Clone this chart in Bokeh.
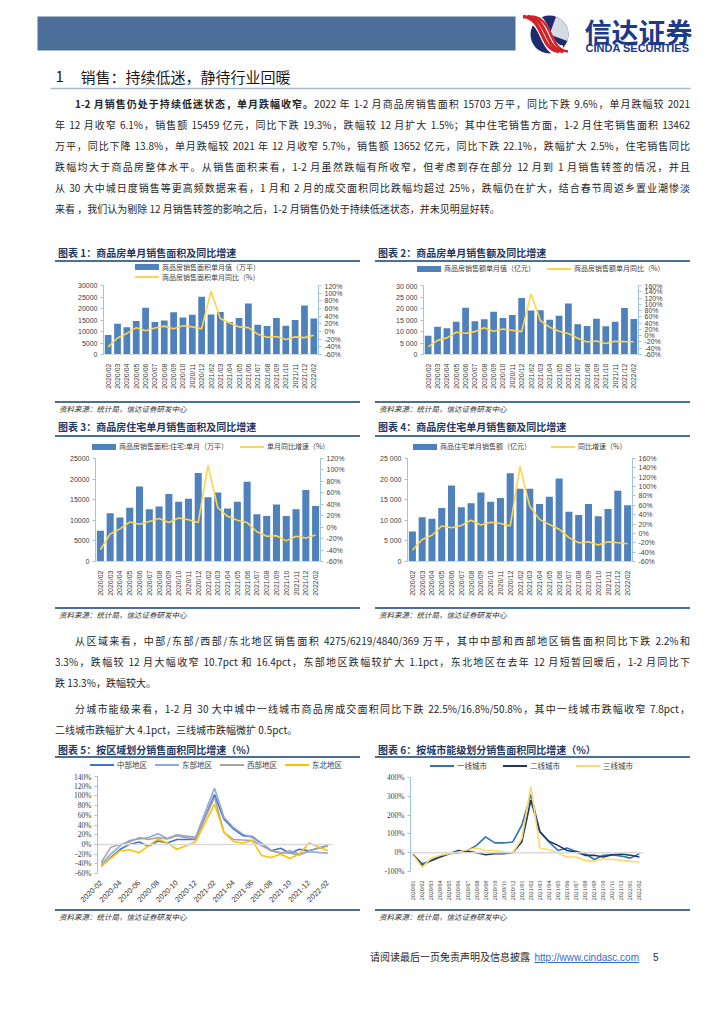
import math
from bokeh.plotting import figure
from bokeh.layouts import column, row
from bokeh.models import (Div, Spacer, Range1d, LinearAxis, FixedTicker, PrintfTickFormatter,
                          ColumnDataSource, Span, Label)
from bokeh.embed import file_html
from bokeh.resources import INLINE

CJK = "Noto Sans CJK SC"
SANS = "Liberation Sans"
SERIF = "Liberation Serif"
BAR = "#4F81BD"
YEL = "#FFD54F"
AXBLUE = "#9DC3E6"
RULE = "#4B6F99"
NAVY = "#1F3864"

# ---------------- data ----------------
months = ["2020/02", "2020/03", "2020/04", "2020/05", "2020/06", "2020/07", "2020/08", "2020/09",
          "2020/10", "2020/11", "2020/12", "2021/02", "2021/03", "2021/04", "2021/05", "2021/06",
          "2021/07", "2021/08", "2021/09", "2021/10", "2021/11", "2021/12", "2022/02"]

area_total = [8475, 13400, 11850, 14560, 20300, 14170, 14760, 18350, 16100, 17280, 25100, 17363,
              18450, 14170, 15920, 22200, 12900, 12420, 15920, 12520, 14950, 21300, 15703]
area_total_yoy = [-39.9, -17, -5, 10, 2, 9, 14, 7, 15, 12, 7, 104.9, 34, 22, 12, 10, -7, -15, -13,
                  -21, -14, -16, -9.6]

amount_total = [8203, 12050, 11450, 14270, 20300, 14460, 15340, 18550, 15920, 17180, 24600, 19151,
                19227, 15140, 16900, 22200, 13200, 12420, 15530, 12230, 14270, 20200, 15459]
amount_total_yoy = [-35.9, -15, -7, 11, 8, 13, 25, 14, 21, 17, 13, 133.4, 48, 27, 14, 7, -8, -20,
                    -17, -25, -18, -19, -19.3]

res_area = [7460, 11720, 10660, 13030, 18200, 12700, 13360, 16390, 14510, 15250, 21480, 15570,
            16720, 12870, 14510, 19340, 11480, 11070, 13850, 11070, 12700, 17380, 13462]
res_area_yoy = [-39.4, -12, -3, 9, 5, 10, 15, 8, 16, 13, 8, 108, 34, 19, 12, 8, -8, -16, -15, -24,
                -16, -19, -13.8]

res_amount = [7260, 10730, 10400, 12980, 18470, 13150, 14110, 16770, 14520, 15400, 21450, 17660,
              17660, 13950, 15730, 20160, 12100, 11290, 13950, 10970, 12740, 17180, 13652]
res_amount_yoy = [-36, -13, -4, 16, 12, 17, 28, 18, 24, 21, 16, 143, 58, 30, 19, 9, -9, -20, -18,
                  -25, -18, -20, -22.1]

ticks_30k = [0, 5000, 10000, 15000, 20000, 25000, 30000]
labels_30k_plain = ["0", "5000", "10000", "15000", "20000", "25000", "30000"]
labels_30k_space = ["0", "5 000", "10 000", "15 000", "20 000", "25 000", "30 000"]
ticks_25k = [0, 5000, 10000, 15000, 20000, 25000]
labels_25k_plain = ["0", "5000", "10000", "15000", "20000", "25000"]
labels_25k_space = ["0", "5 000", "10 000", "15 000", "20 000", "25 000"]
pct_ticks_120 = [-60, -40, -20, 0, 20, 40, 60, 80, 100, 120]
pct_ticks_160 = [-60, -40, -20, 0, 20, 40, 60, 80, 100, 120, 140, 160]

region_months = ["2020-02", "2020-03", "2020-04", "2020-05", "2020-06", "2020-07", "2020-08",
                 "2020-09", "2020-10", "2020-11", "2020-12", "2021-02", "2021-03", "2021-04",
                 "2021-05", "2021-06", "2021-07", "2021-08", "2021-09", "2021-10", "2021-11",
                 "2021-12", "2022-02"]
central = [-45, -27, -10, 0, 5, -4, 7, 3, 10, 10, 10, 103, 52, 32, 18, 16, 2, -13, -8, -18, -10,
           -13, -2.2]
east = [-41, -20, -3, 8, 11, 14, 22, 12, 20, 17, 15, 116, 56, 35, 21, 14, 1, -13, -18, -13, -20,
        -15, -18]
west = [-37, -6, 0, 5, 14, 10, 14, 11, 18, 14, 11, 97, 25, 10, 9, 8, -3, -13, -17, -18, -22, -13,
        -3.3]
northeast = [-44, -29, -13, -11, -17, -3, 11, 3, -10, -3, 6, 83, 25, 6, 3, 8, -23, -27, -20, -29,
             -20, 3, -13.3]
region_tick_labels = ["2020-02", "2020-04", "2020-06", "2020-08", "2020-10", "2020-12", "2021-02",
                      "2021-04", "2021-06", "2021-08", "2021-10", "2021-12", "2022-02"]
region_pct_ticks = [-60, -40, -20, 0, 20, 40, 60, 80, 100, 120, 140]

tier_months = ["2020/01", "2020/02", "2020/03", "2020/04", "2020/05", "2020/06", "2020/07",
               "2020/08", "2020/09", "2020/10", "2020/11", "2020/12", "2021/01", "2021/02",
               "2021/03", "2021/04", "2021/05", "2021/06", "2021/07", "2021/08", "2021/09",
               "2021/10", "2021/11", "2021/12", "2022/01", "2022/02"]
tier1 = [-11, -59, -41, -18, -5, 0, 12, 39, 84, 52, 52, 57, 146, 310, 111, 57, 12, 25, 7, -5, -36,
         -14, -11, -18, -29, -5]
tier2 = [-11, -68, -41, -23, -5, 12, 7, 0, -11, -5, -5, 0, 57, 279, 111, 61, 39, 12, 4, -14, -14,
         -23, -11, -7, -14, -23]
tier3 = [-14, -77, -29, -14, -5, 4, 16, 25, 12, 12, 4, 0, 75, 352, 25, 16, 0, -23, -23, -41, -46,
         -32, -36, -41, -46, -51]
tier_pct_ticks = [-100, 0, 100, 200, 300, 400]

C5_COLORS = ["#4472C4", "#8EA9DB", "#A5A5A5", "#FFC000"]
C5_NAMES = ["中部地区", "东部地区", "西部地区", "东北地区"]
C6_COLORS = ["#2E75B6", "#1F3864", "#FFD966"]
C6_NAMES = ["一线城市", "二线城市", "三线城市"]


def month_offset(m):
    return (int(m[:4]) - 2020) * 12 + int(m[5:7]) - 2


# ---------------- helpers ----------------
def base_fig(x_range, y_range, fw, fh, bl, br, bt, bb):
    p = figure(x_range=x_range, y_range=y_range, frame_width=fw, frame_height=fh,
               output_backend="svg", toolbar_location=None, min_border_left=bl,
               min_border_right=br, min_border_top=bt, min_border_bottom=bb)
    p.title.visible = False
    p.grid.visible = False
    p.outline_line_color = None
    return p


def style_value_axis(ax, font=SANS, size="7px"):
    ax.axis_line_color = AXBLUE
    ax.major_tick_line_color = AXBLUE
    ax.major_tick_in = 0
    ax.major_tick_out = 3
    ax.minor_tick_line_color = None
    ax.major_label_text_font = font
    ax.major_label_text_font_size = size
    ax.major_label_text_color = "#404040"
    ax.major_label_standoff = 3


def bar_line_chart(bars, yoy, lticks, llabels, rticks, fw, fh, bl, br, bt, bb):
    src = ColumnDataSource(dict(m=months, v=bars, r=yoy))
    p = base_fig(months, Range1d(lticks[0], lticks[-1]), fw, fh, bl, br, bt, bb)
    p.extra_y_ranges = {"r": Range1d(rticks[0], rticks[-1])}
    p.vbar(x="m", top="v", width=0.72, source=src, fill_color=BAR, line_color=None)
    p.line(x="m", y="r", y_range_name="r", source=src, line_color=YEL, line_width=1.6)
    ra = LinearAxis(y_range_name="r", ticker=FixedTicker(ticks=rticks),
                    formatter=PrintfTickFormatter(format="%d%%"))
    p.add_layout(ra, "right")
    la = p.left[0]
    la.ticker = FixedTicker(ticks=lticks)
    la.major_label_overrides = {t: s for t, s in zip(lticks, llabels)}
    style_value_axis(la)
    style_value_axis(ra)
    xa = p.below[0]
    xa.major_label_orientation = math.pi / 2
    xa.major_tick_line_color = None
    xa.axis_line_color = "#D9D9D9"
    xa.major_label_text_font = SANS
    xa.major_label_text_font_size = "7px"
    xa.major_label_text_color = "#404040"
    xa.major_label_standoff = 3
    return p


def legend_div(rows, w, h, pad_left, pad_top, gap, size=7, row_h=11):
    html_rows = []
    for r in rows:
        items = []
        for kind, color, label in r:
            gh = 6 if kind == "bar" else 2
            items.append(
                '<span style="display:inline-flex;align-items:center;margin-right:%dpx">'
                '<span style="display:inline-block;width:24px;height:%dpx;background:%s"></span>'
                '<span style="margin-left:3px">%s</span></span>' % (gap, gh, color, label))
        html_rows.append('<div style="height:%dpx;line-height:%dpx;display:flex;'
                         'align-items:center">%s</div>' % (row_h, row_h, "".join(items)))
    html = ('<div style="box-sizing:border-box;width:%dpx;height:%dpx;padding-left:%dpx;'
            'padding-top:%dpx;font-family:\'Noto Sans CJK SC\';font-size:%spx;color:#404040;'
            'white-space:nowrap;overflow:hidden">%s</div>'
            % (w, h, pad_left, pad_top, size, "".join(html_rows)))
    return Div(text=html, width=w, height=h, margin=0)


def title_div(text, w, h, center):
    html = ('<div style="box-sizing:border-box;width:%dpx;height:%dpx;padding-top:%dpx;'
            'padding-left:3px;border-bottom:2px solid %s;font-family:\'Noto Sans CJK SC\';'
            'font-weight:bold;font-size:10px;line-height:12px;color:%s;white-space:nowrap;'
            'overflow:hidden">%s</div>' % (w, h, center - 6, RULE, NAVY, text))
    return Div(text=html, width=w, height=h, margin=0)


def source_div(w, h):
    html = ('<div style="box-sizing:border-box;width:%dpx;height:%dpx;padding-top:1px;'
            'padding-left:4px;border-top:2px solid %s;font-family:\'Noto Sans CJK SC\';'
            'font-style:italic;font-size:7.5px;line-height:10px;color:#333;white-space:nowrap">'
            '资料来源：统计局，信达证券研发中心</div>' % (w, h, RULE))
    return Div(text=html, width=w, height=h, margin=0)


def para_html(lines, top_pad=0):
    parts = []
    for txt, indent, just, mtop in lines:
        st = ("height:21px;line-height:21px;overflow:hidden;margin-top:%dpx;" % mtop)
        if indent:
            st += "text-indent:20px;"
        if just:
            st += "text-align:justify;text-align-last:justify;"
        parts.append('<div style="%s">%s</div>' % (st, txt))
    return ('<div style="box-sizing:border-box;width:690px;padding-left:55px;padding-top:%dpx;'
            'font-family:\'Noto Sans CJK SC\';font-size:10px;color:#262626">%s</div>'
            % (top_pad, "".join(parts)))


# ---------------- header ----------------
hdr = figure(width=724, height=93, x_range=Range1d(0, 724), y_range=Range1d(93, 0),
             output_backend="svg", toolbar_location=None, min_border=0,
             x_axis_type=None, y_axis_type=None)
hdr.title.visible = False
hdr.outline_line_color = None
hdr.quad(left=[37], right=[515], top=[16], bottom=[50], fill_color="#4B6F99", line_color=None)
lx, ly = 549, 34
hdr.circle(x=[lx], y=[ly], radius=19, fill_color="#1E2C6E", line_color=None)
hdr.wedge(x=[lx], y=[ly], radius=19, start_angle=math.radians(-20), end_angle=math.radians(70),
          fill_color="#D5D9E3", line_color=None)
for off, col, wdt in [(-3, "white", 12), (-6.5, "#D2232A", 3.4), (-2, "#D2232A", 3.4),
                      (2.5, "#D2232A", 2.6)]:
    hdr.bezier(x0=[lx - 20 + off], y0=[ly - 18], x1=[lx + 16 + off], y1=[ly + 17],
               cx0=[lx + 2 + off], cy0=[ly - 16], cx1=[lx - 4 + off], cy1=[ly + 15],
               line_color=col, line_width=wdt)
hdr.add_layout(Label(x=584, y=31, text="信达证券", text_font=CJK, text_font_style="bold",
                     text_font_size="27px", text_color="#1D3A8A", text_baseline="middle"))
hdr.add_layout(Label(x=585, y=47, text="CINDA SECURITIES", text_font=SANS, text_font_style="bold",
                     text_font_size="11px", text_color="#1D3A8A", text_baseline="middle"))
hdr.add_layout(Label(x=55, y=76, text="1", text_font=CJK, text_font_size="15px",
                     text_color="#1a1a1a", text_baseline="middle"))
hdr.add_layout(Label(x=80, y=76, text="销售：持续低迷，静待行业回暖", text_font=CJK,
                     text_font_size="15px", text_color="#1a1a1a", text_baseline="middle"))
hdr.segment(x0=[50], y0=[88], x1=[690], y1=[88], line_color="#A7BAD0", line_width=1.5)

# ---------------- paragraph 1 ----------------
p1_lines = [
    ("<b>1-2 月销售仍处于持续低迷状态，单月跌幅收窄。</b>2022 年 1-2 月商品房销售面积 15703 万平，同比下跌 9.6%，单月跌幅较 2021", True, True, 0),
    ("年 12 月收窄 6.1%，销售额 15459 亿元，同比下跌 19.3%，跌幅较 12 月扩大 1.5%；其中住宅销售方面，1-2 月住宅销售面积 13462", False, True, 0),
    ("万平，同比下降 13.8%，单月跌幅较 2021 年 12 月收窄 5.7%，销售额 13652 亿元，同比下跌 22.1%，跌幅扩大 2.5%，住宅销售同比", False, True, 0),
    ("跌幅均大于商品房整体水平。从销售面积来看，1-2 月虽然跌幅有所收窄，但考虑到存在部分 12 月到 1 月销售转签的情况，并且", False, True, 0),
    ("从 30 大中城日度销售等更高频数据来看，1 月和 2 月的成交面积同比跌幅均超过 25%，跌幅仍在扩大，结合春节周返乡置业潮惨淡", False, True, 0),
    ("来看 ，我们认为剔除 12 月销售转签的影响之后，1-2 月销售仍处于持续低迷状态，并未见明显好转。", False, False, 0),
]
para1 = Div(text=para_html(p1_lines), width=724, height=126, margin=0)

# ---------------- charts 1-4 ----------------
c1 = bar_line_chart(area_total, area_total_yoy, ticks_30k, labels_30k_plain, pct_ticks_120,
                    215, 69, 48, 42, 3, 46)
c2 = bar_line_chart(amount_total, amount_total_yoy, ticks_30k, labels_30k_space, pct_ticks_160,
                    215, 69, 48, 52, 3, 46)
c3 = bar_line_chart(res_area, res_area_yoy, ticks_25k, labels_25k_plain, pct_ticks_120,
                    225, 103, 40, 40, 4, 45)
c4 = bar_line_chart(res_amount, res_amount_yoy, ticks_25k, labels_25k_space, pct_ticks_160,
                    225, 103, 32, 58, 4, 45)

lg1 = legend_div([[("bar", BAR, "商品房销售面积单月值（万平）")],
                  [("line", YEL, "商品房销售面积单月同比（%）")]], 305, 20, 80, 0, 0, row_h=10)
lg2 = legend_div([[("bar", BAR, "商品房销售额单月值（亿元）"),
                   ("line", YEL, "商品房销售额单月同比（%）")]], 315, 20, 42, 1, 12)
lg3 = legend_div([[("bar", BAR, "商品房销售面积:住宅:单月（万平）"),
                   ("line", YEL, "单月同比增速（%）")]], 305, 17, 37, 4, 12)
lg4 = legend_div([[("bar", BAR, "商品住宅单月销售额（亿元）"),
                   ("line", YEL, "同比增速（%）")]], 315, 17, 38, 4, 20)

row1 = row(Spacer(width=55, height=197),
           column(title_div("图表 1：商品房单月销售面积及同比增速", 305, 43, 34), lg1, c1,
                  source_div(305, 16)),
           Spacer(width=15, height=197),
           column(title_div("图表 2：商品房单月销售额及同比增速", 315, 43, 34), lg2, c2,
                  source_div(315, 16)))
row2 = row(Spacer(width=55, height=206),
           column(title_div("图表 3：商品房住宅单月销售面积及同比增速", 305, 21, 11), lg3, c3,
                  source_div(305, 16)),
           Spacer(width=15, height=206),
           column(title_div("图表 4：商品房住宅单月销售额及同比增速", 315, 21, 11), lg4, c4,
                  source_div(315, 16)))

# ---------------- paragraphs 2/3 ----------------
p2_lines = [
    ("从区域来看，中部/东部/西部/东北地区销售面积 4275/6219/4840/369 万平，其中中部和西部地区销售面积同比下跌 2.2%和", True, True, 0),
    ("3.3%，跌幅较 12 月大幅收窄 10.7pct 和 16.4pct，东部地区跌幅较扩大 1.1pct，东北地区在去年 12 月短暂回暖后，1-2 月同比下", False, True, 0),
    ("跌 13.3%，跌幅较大。", False, False, 0),
    ("分城市能级来看，1-2 月 30 大中城中一线城市商品房成交面积同比下跌 22.5%/16.8%/50.8%，其中一线城市跌幅收窄 7.8pct，", True, True, 5),
    ("二线城市跌幅扩大 4.1pct，三线城市跌幅微扩 0.5pct。", False, False, 0),
]
para2 = Div(text=para_html(p2_lines, top_pad=8), width=724, height=118, margin=0)

# ---------------- chart 5 ----------------
rx = [month_offset(m) for m in region_months]
rticks = [month_offset(m) for m in region_tick_labels]
c5 = base_fig(Range1d(-0.4, 24.5), Range1d(-60, 140), 235, 97, 42, 28, 4, 35)
c5.add_layout(Span(location=0, dimension="width", line_color="#D9D9D9", line_width=1.5))
src5 = ColumnDataSource(dict(x=rx, c=central, e=east, w=west, n=northeast))
for col_name, colr in zip(["c", "e", "w", "n"], C5_COLORS):
    c5.line("x", col_name, source=src5, line_color=colr, line_width=1.6)
c5.left[0].ticker = FixedTicker(ticks=region_pct_ticks)
c5.left[0].formatter = PrintfTickFormatter(format="%d%%")
style_value_axis(c5.left[0], font=SERIF, size="7.5px")
xa5 = c5.below[0]
xa5.ticker = FixedTicker(ticks=rticks)
xa5.major_label_overrides = {t: s for t, s in zip(rticks, region_tick_labels)}
xa5.major_label_orientation = math.pi / 4
xa5.axis_line_color = None
xa5.major_tick_line_color = None
xa5.minor_tick_line_color = None
xa5.major_label_text_font = SANS
xa5.major_label_text_font_size = "7.5px"
xa5.major_label_text_color = "#333333"
xa5.major_label_standoff = 2
lg5 = legend_div([[("line", c, n) for c, n in zip(C5_COLORS, C5_NAMES)]], 305, 14, 35, 1, 8,
                 size=7.5)

# ---------------- chart 6 ----------------
tx = list(range(len(tier_months)))
c6 = base_fig(Range1d(-0.3, 25.45), Range1d(-100, 400), 233, 94, 35, 47, 5, 37)
c6.add_layout(Span(location=0, dimension="width", line_color="#D9D9D9", line_width=1.5))
src6 = ColumnDataSource(dict(x=tx, a=tier1, b=tier2, c=tier3))
for col_name, colr in zip(["a", "b", "c"], C6_COLORS):
    c6.line("x", col_name, source=src6, line_color=colr, line_width=1.6)
c6.left[0].ticker = FixedTicker(ticks=tier_pct_ticks)
c6.left[0].formatter = PrintfTickFormatter(format="%d%%")
style_value_axis(c6.left[0], font=SERIF, size="7.5px")
xa6 = c6.below[0]
xa6.ticker = FixedTicker(ticks=tx)
xa6.major_label_overrides = {t: s for t, s in zip(tx, tier_months)}
xa6.major_label_orientation = math.pi / 2
xa6.axis_line_color = None
xa6.major_tick_line_color = None
xa6.minor_tick_line_color = None
xa6.major_label_text_font = SERIF
xa6.major_label_text_font_size = "6px"
xa6.major_label_text_color = "#333333"
xa6.major_label_standoff = 3
lg6 = legend_div([[("line", c, n) for c, n in zip(C6_COLORS, C6_NAMES)]], 315, 14, 55, 2, 16,
                 size=7.5)

row3 = row(Spacer(width=55, height=184),
           column(title_div("图表 5：按区域划分销售面积同比增速（%）", 305, 18, 10), lg5, c5,
                  source_div(305, 16)),
           Spacer(width=15, height=184),
           column(title_div("图表 6：按城市能级划分销售面积同比增速（%）", 315, 18, 10), lg6, c6,
                  source_div(315, 16)))

# ---------------- footer ----------------
footer = Div(text=('<div style="box-sizing:border-box;width:724px;height:76px;padding-top:27px;'
                   'padding-left:370px;font-family:\'Noto Sans CJK SC\';font-size:10px;'
                   'line-height:12px;color:#262626;white-space:nowrap">请阅读最后一页免责声明及信息披露'
                   '&nbsp;&nbsp;<span style="font-family:\'Liberation Sans\';color:#2F6FC0;'
                   'text-decoration:underline">http://www.cindasc.com</span>'
                   '<span style="font-family:\'Liberation Sans\';margin-left:14px">5</span></div>'),
             width=724, height=76, margin=0)

page = column(hdr, para1, row1, row2, para2, row3, footer, spacing=0)
open("out.html", "w").write(file_html(page, INLINE))
